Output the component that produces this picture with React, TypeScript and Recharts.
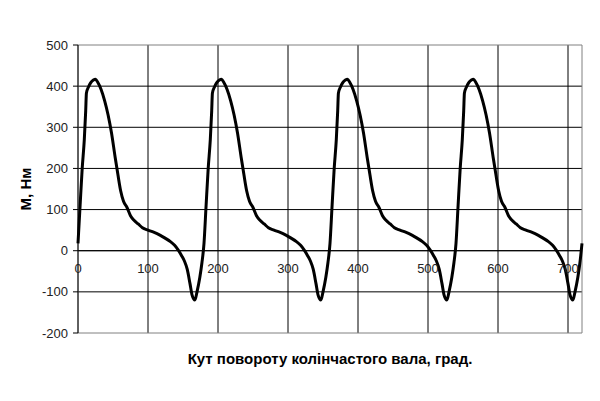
import React from "react";
import {
  LineChart,
  Line,
  XAxis,
  YAxis,
  CartesianGrid,
  ReferenceArea,
  ReferenceLine,
} from "recharts";

const angles = [
  0, 3, 6, 9, 11, 12, 15, 18, 22, 25, 28, 33, 38, 43, 48, 53, 57, 61, 65, 70, 75, 80, 86, 92, 100, 108, 117, 125, 132, 138, 143, 148, 152, 156, 160, 163, 167, 170, 174, 177,
  180, 183, 186, 189, 191, 192, 195, 198, 202, 205, 208, 213, 218, 223, 228, 233, 237, 241, 245, 250, 255, 260, 266, 272, 280, 288, 297, 305, 312, 318, 323, 328, 332, 336, 340, 343, 347, 350, 354, 357,
  360, 363, 366, 369, 371, 372, 375, 378, 382, 385, 388, 393, 398, 403, 408, 413, 417, 421, 425, 430, 435, 440, 446, 452, 460, 468, 477, 485, 492, 498, 503, 508, 512, 516, 520, 523, 527, 530, 534, 537,
  540, 543, 546, 549, 551, 552, 555, 558, 562, 565, 568, 573, 578, 583, 588, 593, 597, 601, 605, 610, 615, 620, 626, 632, 640, 648, 657, 665, 672, 678, 683, 688, 692, 696, 700, 703, 707, 710, 714, 717,
  720,
];

const torque = [
  18, 110, 200, 270, 340, 383, 398, 408, 415, 417, 410, 392, 365, 330, 285, 228, 185, 145, 120, 105, 85, 74, 65, 56, 50, 45, 38, 30, 22, 13, 2, -12, -25, -45, -80, -108, -120, -100, -65, -30,
  18, 110, 200, 270, 340, 383, 398, 408, 415, 417, 410, 392, 365, 330, 285, 228, 185, 145, 120, 105, 85, 74, 65, 56, 50, 45, 38, 30, 22, 13, 2, -12, -25, -45, -80, -108, -120, -100, -65, -30,
  18, 110, 200, 270, 340, 383, 398, 408, 415, 417, 410, 392, 365, 330, 285, 228, 185, 145, 120, 105, 85, 74, 65, 56, 50, 45, 38, 30, 22, 13, 2, -12, -25, -45, -80, -108, -120, -100, -65, -30,
  18, 110, 200, 270, 340, 383, 398, 408, 415, 417, 410, 392, 365, 330, 285, 228, 185, 145, 120, 105, 85, 74, 65, 56, 50, 45, 38, 30, 22, 13, 2, -12, -25, -45, -80, -108, -120, -100, -65, -30,
  18,
];

const xTicks = [0, 100, 200, 300, 400, 500, 600, 700];
const yTicks = [-200, -100, 0, 100, 200, 300, 400, 500];
const gridY = [-100, 0, 100, 200, 300, 400];
const gridX = [100, 200, 300, 400, 500, 600, 700];

const xTitle = "Кут повороту колінчастого вала, град.";
const yTitle = "M, Нм";

const data = angles.map((a, i) => ({ angle: a, m: torque[i] }));

const FONT = "'Liberation Sans', Arial, sans-serif";

const XTick = (props: any) => {
  const { x, y, payload } = props;
  return (
    <text x={x} y={y - 71} textAnchor="middle" dominantBaseline="middle" fontSize={13} fill="#222" fontFamily={FONT}>
      {payload.value}
    </text>
  );
};

export default function App() {
  return (
    <div style={{ position: "absolute", left: 0, top: 0, width: 600, height: 401, background: "#fff" }}>
      <LineChart
        width={600}
        height={401}
        data={data}
        margin={{ top: 45, right: 18, bottom: 0, left: 0 }}
      >
        <CartesianGrid
          stroke="#000"
          strokeWidth={1}
          horizontalValues={gridY}
          verticalValues={gridX}
        />
        <ReferenceArea x1={0} x2={720} y1={-200} y2={500} fill="none" stroke="#808080" strokeWidth={1} ifOverflow="visible" />
        <XAxis
          dataKey="angle"
          type="number"
          domain={[0, 720]}
          ticks={xTicks}
          tick={<XTick />}
          axisLine={false}
          tickLine={false}
          height={68}
          interval={0}
          label={{ value: xTitle, position: "insideTop", offset: 20, fontSize: 15, fontWeight: "bold", fill: "#000", fontFamily: FONT }}
        />
        <YAxis
          type="number"
          domain={[-200, 500]}
          ticks={yTicks}
          width={78}
          interval={0}
          axisLine={{ stroke: "#000" }}
          tickLine={{ stroke: "#000" }}
          tickSize={5}
          tickMargin={5}
          tick={{ fontSize: 13, fill: "#222", fontFamily: FONT }}
          label={{ value: yTitle, angle: -90, position: "insideLeft", offset: 26, fontSize: 15, fontWeight: "bold", fill: "#000", fontFamily: FONT, style: { textAnchor: "middle" } }}
        />
        <ReferenceLine y={0} stroke="#000" strokeWidth={1} />
        <Line
          type="monotone"
          dataKey="m"
          stroke="#000"
          strokeWidth={3}
          dot={false}
          isAnimationActive={false}
        />
      </LineChart>
    </div>
  );
}
